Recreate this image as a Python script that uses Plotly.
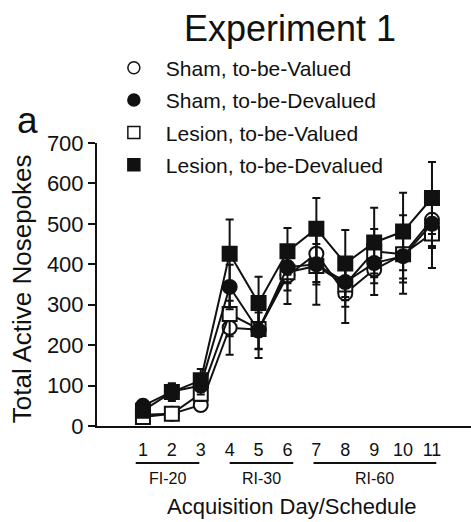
import plotly.graph_objects as go

days = [1, 2, 3, 4, 5, 6, 7, 8, 9, 10, 11]
tick_labels = [str(d) for d in days]

series_names = ["Sham, to-be-Valued", "Sham, to-be-Devalued",
                "Lesion, to-be-Valued", "Lesion, to-be-Devalued"]

sham_valued = [28, 30, 52, 243, 238, 372, 426, 328, 387, 424, 510]
sham_valued_err = [8, 8, 14, 67, 70, 70, 70, 73, 63, 97, 70]

sham_devalued = [50, 85, 100, 344, 236, 393, 400, 356, 403, 420, 500]
sham_devalued_err = [10, 18, 22, 55, 45, 40, 50, 45, 50, 55, 55]

lesion_valued = [22, 30, 80, 277, 240, 380, 396, 350, 432, 425, 476]
lesion_valued_err = [8, 10, 18, 55, 50, 45, 96, 55, 55, 70, 85]

lesion_devalued = [38, 84, 113, 426, 304, 432, 488, 402, 454, 481, 564]
lesion_devalued_err = [12, 22, 28, 85, 65, 58, 76, 83, 86, 96, 89]

groups = ["FI-20", "RI-30", "RI-60"]
group_start = [0.75, 4.0, 6.9]
group_end = [2.95, 6.2, 11.15]

values = [sham_valued, sham_devalued, lesion_valued, lesion_devalued]
errors = [sham_valued_err, sham_devalued_err, lesion_valued_err, lesion_devalued_err]
symbols = ["circle", "circle", "square", "square"]
fills = ["white", "#111111", "white", "#111111"]

fig = go.Figure()
draw_order = [0, 2, 1, 3]
for i in draw_order:
    fig.add_trace(go.Scatter(
        x=days, y=values[i], mode="lines+markers",
        line=dict(color="#111111", width=2),
        marker=dict(symbol=symbols[i], size=14, color=fills[i],
                    line=dict(color="#111111", width=2)),
        error_y=dict(type="data", array=errors[i], visible=True,
                     color="#111111", thickness=2, width=4),
        showlegend=False, name=series_names[i]))

for i in range(4):
    fig.add_trace(go.Scatter(
        x=[None], y=[None], mode="markers", name=series_names[i],
        legendgroup=f"g{i}",
        marker=dict(symbol=symbols[i], size=12, color=fills[i],
                    line=dict(color="#111111", width=1.5)),
        showlegend=True))

font_family = "Liberation Sans, Arial, sans-serif"

fig.update_layout(
    width=471, height=522,
    margin=dict(l=97, r=0, t=143, b=96),
    paper_bgcolor="white", plot_bgcolor="white",
    font=dict(family=font_family, color="#111111"),
    showlegend=True,
    legend=dict(x=0.013, y=1.337, xanchor="left", yanchor="top",
                font=dict(size=21, family=font_family, color="#111111"),
                bgcolor="rgba(0,0,0,0)", tracegroupgap=2,
                traceorder="grouped", itemwidth=54),
    xaxis=dict(range=[-0.59, 12.35], tickmode="array", tickvals=days,
               ticktext=tick_labels, showline=True, linecolor="#111111",
               linewidth=2, ticks="", showgrid=False, zeroline=False,
               tickfont=dict(size=18), ticklabelstandoff=6),
    yaxis=dict(range=[0, 700], tickvals=[0, 100, 200, 300, 400, 500, 600, 700],
               showline=True, linecolor="#111111", linewidth=2,
               ticks="outside", ticklen=7, tickwidth=2, tickcolor="#111111",
               showgrid=False, zeroline=False, tickfont=dict(size=22)),
)

for g, s, e in zip(groups, group_start, group_end):
    fig.add_shape(type="line", xref="x", yref="paper", x0=s, x1=e,
                  y0=-0.131, y1=-0.131, line=dict(color="#111111", width=2))
    fig.add_annotation(text=g, xref="x", yref="paper", x=(s + e) / 2,
                       y=-0.187, showarrow=False, font=dict(size=16),
                       xanchor="center", yanchor="middle")

fig.add_annotation(text="Acquisition Day/Schedule", xref="paper", yref="paper",
                   x=0.521, y=-0.286, showarrow=False, font=dict(size=22),
                   xanchor="center", yanchor="middle")
fig.add_annotation(text="Total Active Nosepokes", xref="paper", yref="paper",
                   x=-0.2, y=0.484, showarrow=False, font=dict(size=26),
                   textangle=-90, xanchor="center", yanchor="middle")
fig.add_annotation(text="Experiment 1", xref="paper", yref="paper",
                   x=0.516, y=1.406, showarrow=False, font=dict(size=36),
                   xanchor="center", yanchor="middle")
fig.add_annotation(text="a", xref="paper", yref="paper",
                   x=-0.187, y=1.08, showarrow=False, font=dict(size=37),
                   xanchor="center", yanchor="middle")

fig.write_html("out.html")
